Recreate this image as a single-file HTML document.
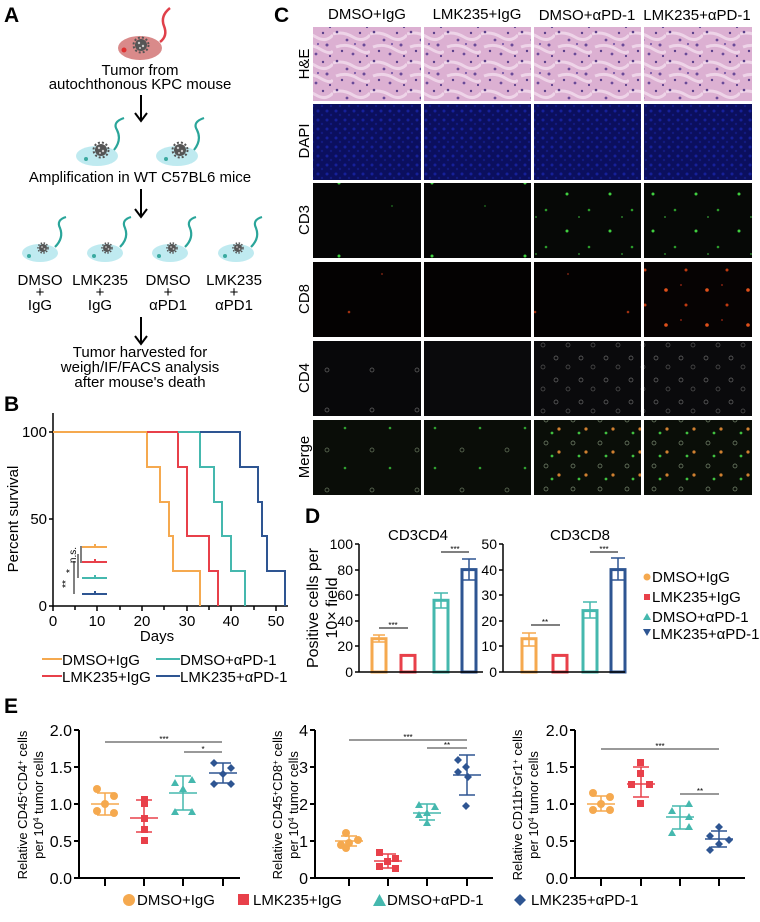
<!DOCTYPE html>
<html><head><meta charset="utf-8"><style>
html,body{margin:0;padding:0;background:#fff}
svg{display:block;font-family:"Liberation Sans",Arial,sans-serif}
</style></head><body>
<svg width="760" height="922" viewBox="0 0 760 922" xmlns="http://www.w3.org/2000/svg">
<defs>
<pattern id="he" width="37" height="29" patternUnits="userSpaceOnUse">
<rect width="37" height="29" fill="#dcb0d2"/>
<path d="M0 5 Q10 2 20 8 T37 6 M3 18 Q14 14 24 20 T37 22" stroke="#eed4e8" stroke-width="3" fill="none"/>
<circle cx="4" cy="3" r="1.3" fill="#5a3f8a"/><circle cx="14" cy="11" r="1.4" fill="#6a4a98"/><circle cx="27" cy="4" r="1.2" fill="#5a3f8a"/><circle cx="31" cy="16" r="1.5" fill="#6a4a98"/><circle cx="9" cy="22" r="1.2" fill="#5a3f8a"/><circle cx="20" cy="25" r="1.4" fill="#6a4a98"/><circle cx="22" cy="15" r="1.1" fill="#7a5aa8"/><circle cx="34" cy="27" r="1.1" fill="#5a3f8a"/>
</pattern>
<pattern id="dapi" width="9" height="9" patternUnits="userSpaceOnUse"><rect width="9" height="9" fill="#0b0f5e"/><circle cx="3" cy="3" r="1.5" fill="#16209a"/><circle cx="7" cy="7" r="1.2" fill="#121a80"/></pattern>
<pattern id="gr" width="43" height="37" patternUnits="userSpaceOnUse"><rect width="43" height="37" fill="#060806"/><circle cx="8" cy="9" r="1.5" fill="#3fcf3f"/><circle cx="30" cy="25" r="1.3" fill="#2a9a2a"/><circle cx="20" cy="32" r="1" fill="#2a7a2a"/></pattern>
<pattern id="gr2" width="93" height="73" patternUnits="userSpaceOnUse"><rect width="93" height="73" fill="#050505"/><circle cx="60" cy="37" r="1.5" fill="#3fcf3f"/><circle cx="20" cy="60" r="1" fill="#1a5a1a"/></pattern>
<pattern id="rd" width="41" height="35" patternUnits="userSpaceOnUse"><rect width="41" height="35" fill="#060303"/><circle cx="10" cy="10" r="1.8" fill="#e0501a"/><circle cx="30" cy="25" r="1.5" fill="#c03a10"/><circle cx="25" cy="5" r="1" fill="#802010"/></pattern>
<pattern id="rd2" width="93" height="73" patternUnits="userSpaceOnUse"><rect width="93" height="73" fill="#040202"/><circle cx="70" cy="20" r="1.3" fill="#a03010"/><circle cx="10" cy="55" r="1" fill="#702010"/></pattern>
<pattern id="wh" width="25" height="22" patternUnits="userSpaceOnUse"><rect width="25" height="22" fill="#0a0a0c"/><circle cx="6" cy="6" r="2" fill="none" stroke="#6a6a6a" stroke-width="0.7"/><circle cx="18" cy="15" r="2" fill="none" stroke="#555" stroke-width="0.7"/></pattern>
<pattern id="wh2" width="45" height="40" patternUnits="userSpaceOnUse"><rect width="45" height="40" fill="#08080a"/><circle cx="12" cy="10" r="2" fill="none" stroke="#666" stroke-width="0.7"/></pattern>
<pattern id="mg" width="27" height="23" patternUnits="userSpaceOnUse"><rect width="27" height="23" fill="#0a0e08"/><circle cx="6" cy="6" r="2" fill="none" stroke="#7a8a70" stroke-width="0.7"/><circle cx="19" cy="15" r="1.6" fill="#d08030"/><circle cx="12" cy="19" r="1.4" fill="#40c040"/></pattern>
<pattern id="mg2" width="45" height="40" patternUnits="userSpaceOnUse"><rect width="45" height="40" fill="#0a0d08"/><circle cx="12" cy="10" r="2" fill="none" stroke="#6a7a60" stroke-width="0.7"/><circle cx="30" cy="28" r="1.3" fill="#30a030"/></pattern>
<g id="gear"><circle r="6" fill="#555"/><circle r="7.5" fill="none" stroke="#555" stroke-width="2" stroke-dasharray="2 2"/><circle cx="-2" cy="-2" r="1.2" fill="#ccc"/><circle cx="2" cy="1" r="1.2" fill="#ccc"/><circle cx="-1" cy="3" r="1" fill="#ccc"/></g>
<g id="gearS"><circle r="4" fill="#555"/><circle r="5" fill="none" stroke="#555" stroke-width="1.5" stroke-dasharray="1.5 1.5"/><circle cx="-1" cy="-1" r="0.9" fill="#ccc"/><circle cx="1.5" cy="1" r="0.9" fill="#ccc"/></g>
</defs>

<!-- Panel A -->
<text x="4" y="22" font-size="21" font-weight="bold">A</text>
<ellipse cx="140" cy="48" rx="22" ry="12" fill="#d98a8a"/>
<circle cx="124" cy="50" r="2.5" fill="#e03030"/>
<use href="#gear" x="141" y="45"/>
<path d="M160 42 Q168 36 164 26 Q160 16 170 8" fill="none" stroke="#e0404a" stroke-width="2.5"/>
<g font-size="15" text-anchor="middle">
<text x="140" y="75">Tumor  from</text>
<text x="140" y="89">autochthonous KPC mouse</text>
<text x="140" y="182">Amplification in WT C57BL6 mice</text>
<text x="40" y="285">DMSO</text><text x="40" y="297">+</text><text x="40" y="310">IgG</text>
<text x="100" y="285">LMK235</text><text x="100" y="297">+</text><text x="100" y="310">IgG</text>
<text x="168" y="285">DMSO</text><text x="168" y="297">+</text><text x="168" y="310">αPD1</text>
<text x="234" y="285">LMK235</text><text x="234" y="297">+</text><text x="234" y="310">αPD1</text>
<text x="140" y="357">Tumor harvested for</text>
<text x="140" y="372">weigh/IF/FACS analysis</text>
<text x="140" y="387">after mouse's death</text>
</g>
<g stroke="#000" stroke-width="2" fill="none">
<path d="M141 95 V120 M135 113 L141 121 L147 113"/>
<path d="M141 189 V216 M135 209 L141 217 L147 209"/>
<path d="M141 317 V343 M135 336 L141 344 L147 336"/>
</g>
<g fill="#bfeaf0">
<ellipse cx="97" cy="156" rx="21" ry="10"/><ellipse cx="177" cy="156" rx="21" ry="10"/>
<ellipse cx="40" cy="253" rx="18" ry="9"/><ellipse cx="105" cy="253" rx="18" ry="9"/><ellipse cx="170" cy="253" rx="18" ry="9"/><ellipse cx="236" cy="253" rx="18" ry="9"/>
</g>
<g fill="#3aaaa0"><circle cx="86" cy="159" r="2"/><circle cx="166" cy="159" r="2"/><circle cx="29" cy="256" r="2"/><circle cx="94" cy="256" r="2"/><circle cx="159" cy="256" r="2"/><circle cx="225" cy="256" r="2"/></g>
<use href="#gear" x="101" y="150"/><use href="#gear" x="180" y="150"/>
<use href="#gearS" x="43" y="248"/><use href="#gearS" x="107" y="248"/><use href="#gearS" x="172" y="248"/><use href="#gearS" x="238" y="248"/>
<g fill="none" stroke="#2aa59a" stroke-width="2.2">
<path d="M114 150 Q122 140 117 130 Q112 122 124 118"/><path d="M194 150 Q202 140 197 130 Q192 122 204 118"/>
<path d="M55 247 Q64 238 60 228 Q56 220 66 217"/><path d="M120 247 Q129 238 125 228 Q121 220 131 217"/><path d="M185 247 Q194 238 190 228 Q186 220 196 217"/><path d="M251 247 Q260 238 256 228 Q252 220 262 217"/>
</g>

<!-- Panel B -->
<text x="4" y="411" font-size="21" font-weight="bold">B</text>
<g stroke="#000" stroke-width="1.5" fill="none">
<path d="M53 413 V606 H288"/>
<path d="M49 432 H53 M49 519 H53 M49 606 H53 M53 606 V611 M75 606 V610 M97 606 V611 M120 606 V610 M142 606 V611 M164 606 V610 M187 606 V611 M209 606 V610 M231 606 V611 M254 606 V610 M276 606 V611"/>
</g>
<g font-size="15" text-anchor="end"><text x="47" y="437">100</text><text x="47" y="524">50</text><text x="47" y="611">0</text></g>
<g font-size="15" text-anchor="middle"><text x="53" y="626">0</text><text x="97" y="626">10</text><text x="142" y="626">20</text><text x="187" y="626">30</text><text x="231" y="626">40</text><text x="276" y="626">50</text><text x="157" y="641">Days</text></g>
<text transform="translate(18,519) rotate(-90)" font-size="15" text-anchor="middle">Percent survival</text>
<g fill="none" stroke-width="2">
<path stroke="#f5a94f" d="M53 432 H147 V467 H160 V502 H169 V536 H173 V571 H200 V606"/>
<path stroke="#e8404a" d="M147 432 H178 V467 H187 V536 H209 V571 H218 V606"/>
<path stroke="#45b8ae" d="M178 432 H200 V467 H214 V502 H222 V536 H231 V571 H245 V606"/>
<path stroke="#2e5592" d="M200 432 H240 V467 H258 V502 H262 V536 H267 V571 H285 V606"/>
<path stroke="#f5a94f" d="M82 547 H107 M95 544 V547"/>
<path stroke="#e8404a" d="M82 562 H107 M95 559 V562"/>
<path stroke="#45b8ae" d="M82 578 H107 M95 575 V578"/>
<path stroke="#2e5592" d="M82 594 H107 M95 591 V594"/>
</g>
<g stroke="#000" stroke-width="1" fill="none"><path d="M81 546 V563 M78 554 V578 M74 561 V594"/></g>
<g font-size="10"><text transform="translate(76,555) rotate(-90)" text-anchor="middle">n.s.</text><text transform="translate(73,571) rotate(-90)" text-anchor="middle">*</text><text transform="translate(69,584) rotate(-90)" text-anchor="middle">**</text></g>
<g stroke-width="2"><line x1="42" y1="659" x2="62" y2="659" stroke="#f5a94f"/><line x1="42" y1="676" x2="62" y2="676" stroke="#e8404a"/><line x1="156" y1="659" x2="180" y2="659" stroke="#45b8ae"/><line x1="156" y1="676" x2="180" y2="676" stroke="#2e5592"/></g>
<g font-size="15"><text x="62" y="665">DMSO+IgG</text><text x="62" y="682">LMK235+IgG</text><text x="180" y="665">DMSO+αPD-1</text><text x="180" y="682">LMK235+αPD-1</text></g>

<!-- Panel C -->
<text x="274" y="22" font-size="21" font-weight="bold">C</text>
<g font-size="15" text-anchor="middle"><text x="367" y="19">DMSO+IgG</text><text x="477" y="19">LMK235+IgG</text><text x="587" y="20">DMSO+αPD-1</text><text x="697" y="20">LMK235+αPD-1</text></g>
<g font-size="15" text-anchor="middle">
<text transform="translate(309,64) rotate(-90)">H&amp;E</text>
<text transform="translate(309,141) rotate(-90)">DAPI</text>
<text transform="translate(309,220) rotate(-90)">CD3</text>
<text transform="translate(309,299) rotate(-90)">CD8</text>
<text transform="translate(309,378) rotate(-90)">CD4</text>
<text transform="translate(309,457) rotate(-90)">Merge</text>
</g>
<g>
<rect x="313" y="27" width="108" height="74" fill="url(#he)"/><rect x="424" y="27" width="107" height="74" fill="url(#he)"/><rect x="534" y="27" width="107" height="74" fill="url(#he)"/><rect x="644" y="27" width="108" height="74" fill="url(#he)"/>
<rect x="313" y="104" width="108" height="76" fill="url(#dapi)"/><rect x="424" y="104" width="107" height="76" fill="url(#dapi)"/><rect x="534" y="104" width="107" height="76" fill="url(#dapi)"/><rect x="644" y="104" width="108" height="76" fill="url(#dapi)"/>
<rect x="313" y="183" width="108" height="75" fill="url(#gr2)"/><rect x="424" y="183" width="107" height="75" fill="url(#gr2)"/><rect x="534" y="183" width="107" height="75" fill="url(#gr)"/><rect x="644" y="183" width="108" height="75" fill="url(#gr)"/>
<rect x="313" y="262" width="108" height="75" fill="url(#rd2)"/><rect x="424" y="262" width="107" height="75" fill="#040202"/><rect x="534" y="262" width="107" height="75" fill="url(#rd2)"/><rect x="644" y="262" width="108" height="75" fill="url(#rd)"/>
<rect x="313" y="341" width="108" height="75" fill="url(#wh2)"/><rect x="424" y="341" width="107" height="75" fill="#0a0a0c"/><rect x="534" y="341" width="107" height="75" fill="url(#wh)"/><rect x="644" y="341" width="108" height="75" fill="url(#wh)"/>
<rect x="313" y="420" width="108" height="75" fill="url(#mg2)"/><rect x="424" y="420" width="107" height="75" fill="url(#mg2)"/><rect x="534" y="420" width="107" height="75" fill="url(#mg)"/><rect x="644" y="420" width="108" height="75" fill="url(#mg)"/>
</g>

<!-- Panel D -->
<text x="305" y="523" font-size="21" font-weight="bold">D</text>
<text x="418" y="540" font-size="15" text-anchor="middle">CD3CD4</text>
<text x="580" y="540" font-size="15" text-anchor="middle">CD3CD8</text>
<text transform="translate(318,608) rotate(-90)" font-size="16" text-anchor="middle">Positive cells per</text>
<text transform="translate(337,608) rotate(-90)" font-size="16" text-anchor="middle">10× field</text>
<g fill="none" stroke-width="3">
<rect x="372" y="638.7" width="14" height="33.3" stroke="#f5a94f"/>
<rect x="401" y="655.4" width="14" height="16.6" stroke="#e8404a"/>
<rect x="434" y="600.3" width="14" height="71.7" stroke="#45b8ae"/>
<rect x="462" y="569.6" width="14" height="102.4" stroke="#2e5592"/>
<rect x="522" y="638.7" width="14" height="33.3" stroke="#f5a94f"/>
<rect x="553" y="655.4" width="14" height="16.6" stroke="#e8404a"/>
<rect x="583" y="610.6" width="14" height="61.4" stroke="#45b8ae"/>
<rect x="611" y="569.6" width="14" height="102.4" stroke="#2e5592"/>
</g>
<g stroke-width="1.5" fill="none">
<path stroke="#f5a94f" d="M373 635 H385 M379 635 V642 M373 642 H385"/>
<path stroke="#2e5592" d="M462 559 H476 M469 559 V580 M462 580 H476"/>
<path stroke="#45b8ae" d="M434 593 H448 M441 593 V608 M434 608 H448"/>
<path stroke="#f5a94f" d="M522 633 H536 M529 633 V646 M522 646 H536"/>
<path stroke="#45b8ae" d="M583 602 H597 M590 602 V618 M583 618 H597"/>
<path stroke="#2e5592" d="M611 558 H625 M618 558 V580 M611 580 H625"/>
</g>
<g stroke="#000" stroke-width="1.5" fill="none">
<path d="M359 544 V672 H483 M355 544 H359 M355 570 H359 M355 595 H359 M355 621 H359 M355 646 H359 M355 672 H359"/>
<path d="M503 544 V672 H625 M499 544 H503 M499 570 H503 M499 595 H503 M499 621 H503 M499 646 H503 M499 672 H503"/>
<path stroke-width="1" d="M379 628 H408 M441 552 H469 M531 625 H560 M590 552 H618"/>
</g>
<g font-size="8" text-anchor="middle"><text x="393" y="628">***</text><text x="455" y="552">***</text><text x="545" y="625">**</text><text x="604" y="552">***</text></g>
<g font-size="14" text-anchor="end"><text x="353" y="549">100</text><text x="353" y="575">80</text><text x="353" y="600">60</text><text x="353" y="626">40</text><text x="353" y="651">20</text><text x="353" y="677">0</text>
<text x="497" y="549">50</text><text x="497" y="575">40</text><text x="497" y="600">30</text><text x="497" y="626">20</text><text x="497" y="651">10</text><text x="497" y="677">0</text></g>
<circle cx="647" cy="577" r="3.5" fill="#f5a94f"/><rect x="644" y="594" width="6" height="6" fill="#e8404a"/><path d="M643 620 L651 620 L647 613 Z" fill="#45b8ae"/><path d="M643 629 L651 629 L647 636 Z" fill="#2e5592"/>
<g font-size="15"><text x="652" y="582">DMSO+IgG</text><text x="652" y="602">LMK235+IgG</text><text x="652" y="622">DMSO+αPD-1</text><text x="652" y="639">LMK235+αPD-1</text></g>

<!-- Panel E -->
<text x="4" y="713" font-size="21" font-weight="bold">E</text>
<g stroke="#000" stroke-width="2" fill="none">
<path d="M79 730 V878 H240 M74 730 H79 M74 767 H79 M74 804 H79 M74 841 H79 M74 878 H79 M105 878 V886 M144 878 V886 M183 878 V886 M223 878 V886"/>
<path d="M315 730 V878 H493 M310 730 H315 M310 767 H315 M310 804 H315 M310 841 H315 M310 878 H315 M349 878 V886 M388 878 V886 M427 878 V886 M467 878 V886"/>
<path d="M575 730 V878 H745 M570 730 H575 M570 767 H575 M570 804 H575 M570 841 H575 M570 878 H575 M601 878 V886 M641 878 V886 M680 878 V886 M719 878 V886"/>
</g>
<g stroke="#333" stroke-width="1"><path d="M105 742 H222 M184 752 H222 M349 740 H467 M427 748 H467 M601 749 H719 M680 794 H719"/></g>
<g font-size="8" text-anchor="middle"><text x="164" y="742">***</text><text x="203" y="752">*</text><text x="408" y="740">***</text><text x="447" y="748">**</text><text x="660" y="749">***</text><text x="700" y="794">**</text></g>
<g font-size="16" text-anchor="end">
<text x="72" y="736">2.0</text><text x="72" y="773">1.5</text><text x="72" y="810">1.0</text><text x="72" y="847">0.5</text><text x="72" y="884">0.0</text>
<text x="308" y="736">4</text><text x="308" y="773">3</text><text x="308" y="810">2</text><text x="308" y="847">1</text><text x="308" y="884">0</text>
<text x="568" y="736">2.0</text><text x="568" y="773">1.5</text><text x="568" y="810">1.0</text><text x="568" y="847">0.5</text><text x="568" y="884">0.0</text>
</g>
<g font-size="13" text-anchor="middle">
<text transform="translate(27,805) rotate(-90)">Relative CD45<tspan dy="-4" font-size="8">+</tspan><tspan dy="4">CD4</tspan><tspan dy="-4" font-size="8">+</tspan><tspan dy="4"> cells</tspan></text>
<text transform="translate(43,805) rotate(-90)">per 10<tspan dy="-4" font-size="8">4</tspan><tspan dy="4"> tumor cells</tspan></text>
<text transform="translate(282,805) rotate(-90)">Relative CD45<tspan dy="-4" font-size="8">+</tspan><tspan dy="4">CD8</tspan><tspan dy="-4" font-size="8">+</tspan><tspan dy="4"> cells</tspan></text>
<text transform="translate(298,805) rotate(-90)">per 10<tspan dy="-4" font-size="8">4</tspan><tspan dy="4"> tumor cells</tspan></text>
<text transform="translate(522,805) rotate(-90)">Relative CD11b<tspan dy="-4" font-size="8">+</tspan><tspan dy="4">Gr1</tspan><tspan dy="-4" font-size="8">+</tspan><tspan dy="4"> cells</tspan></text>
<text transform="translate(538,805) rotate(-90)">per 10<tspan dy="-4" font-size="8">4</tspan><tspan dy="4"> tumor cells</tspan></text>
</g>
<!-- E plot1 -->
<g fill="#f5a94f"><circle cx="97" cy="789" r="4"/><circle cx="114" cy="796" r="4"/><circle cx="105" cy="804" r="4"/><circle cx="97" cy="811" r="4"/><circle cx="114" cy="813" r="4"/></g>
<path d="M97 793 H113 M105 793 V815 M91 804 H119 M97 815 H113" stroke="#f5a94f" stroke-width="1.5" fill="none"/>
<g fill="#e8404a"><rect x="141" y="796" width="7" height="7"/><rect x="141" y="800" width="7" height="7"/><rect x="141" y="815" width="7" height="7"/><rect x="141" y="826" width="7" height="7"/><rect x="141" y="837" width="7" height="7"/></g>
<path d="M136 800 H152 M144 800 V832 M130 818 H158 M136 832 H152" stroke="#e8404a" stroke-width="1.5" fill="none"/>
<g fill="#45b8ae"><path d="M171 786 L179 786 L175 779 Z"/><path d="M188 783 L196 783 L192 776 Z"/><path d="M179 792 L187 792 L183 785 Z"/><path d="M171 815 L179 815 L175 808 Z"/><path d="M188 815 L196 815 L192 808 Z"/></g>
<path d="M175 776 H191 M183 776 V810 M169 793 H197 M175 810 H191" stroke="#45b8ae" stroke-width="1.5" fill="none"/>
<g fill="#2e5592"><path d="M214 759 l4 4 -4 4 -4 -4z"/><path d="M231 764 l4 4 -4 4 -4 -4z"/><path d="M223 770 l4 4 -4 4 -4 -4z"/><path d="M214 780 l4 4 -4 4 -4 -4z"/><path d="M231 780 l4 4 -4 4 -4 -4z"/></g>
<path d="M215 763 H231 M223 763 V783 M209 773 H237 M215 783 H231" stroke="#2e5592" stroke-width="1.5" fill="none"/>
<!-- E plot2 -->
<g fill="#f5a94f"><circle cx="346" cy="833" r="4"/><circle cx="358" cy="840" r="4"/><circle cx="349" cy="843" r="4"/><circle cx="341" cy="845" r="4"/><circle cx="346" cy="848" r="4"/></g>
<path d="M341 836 H357 M349 836 V846 M335 841 H363 M341 846 H357" stroke="#f5a94f" stroke-width="1.5" fill="none"/>
<g fill="#e8404a"><rect x="376" y="849" width="7" height="7"/><rect x="392" y="855" width="7" height="7"/><rect x="384" y="858" width="7" height="7"/><rect x="376" y="863" width="7" height="7"/><rect x="392" y="865" width="7" height="7"/></g>
<path d="M380 854 H396 M388 854 V868 M374 861 H402 M380 868 H396" stroke="#e8404a" stroke-width="1.5" fill="none"/>
<g fill="#45b8ae"><path d="M415 808 L423 808 L419 801 Z"/><path d="M431 810 L439 810 L435 803 Z"/><path d="M423 816 L431 816 L427 809 Z"/><path d="M415 818 L423 818 L419 811 Z"/><path d="M423 826 L431 826 L427 819 Z"/></g>
<path d="M419 804 H435 M427 804 V820 M413 813 H441 M419 820 H435" stroke="#45b8ae" stroke-width="1.5" fill="none"/>
<g fill="#2e5592"><path d="M458 756 l4 4 -4 4 -4 -4z"/><path d="M466 763 l4 4 -4 4 -4 -4z"/><path d="M458 768 l4 4 -4 4 -4 -4z"/><path d="M468 773 l4 4 -4 4 -4 -4z"/><path d="M466 802 l4 4 -4 4 -4 -4z"/></g>
<path d="M459 755 H475 M467 755 V795 M453 775 H481 M459 795 H475" stroke="#2e5592" stroke-width="1.5" fill="none"/>
<!-- E plot3 -->
<g fill="#f5a94f"><circle cx="593" cy="793" r="4"/><circle cx="610" cy="797" r="4"/><circle cx="601" cy="804" r="4"/><circle cx="593" cy="810" r="4"/><circle cx="610" cy="810" r="4"/></g>
<path d="M593 796 H609 M601 796 V811 M587 804 H615 M593 811 H609" stroke="#f5a94f" stroke-width="1.5" fill="none"/>
<g fill="#e8404a"><rect x="637" y="759" width="7" height="7"/><rect x="637" y="770" width="7" height="7"/><rect x="628" y="781" width="7" height="7"/><rect x="646" y="781" width="7" height="7"/><rect x="637" y="800" width="7" height="7"/></g>
<path d="M633 767 H649 M641 767 V797 M627 784 H655 M633 797 H649" stroke="#e8404a" stroke-width="1.5" fill="none"/>
<g fill="#45b8ae"><path d="M685 807 L693 807 L689 800 Z"/><path d="M668 814 L676 814 L672 807 Z"/><path d="M685 820 L693 820 L689 813 Z"/><path d="M668 836 L676 836 L672 829 Z"/><path d="M685 830 L693 830 L689 823 Z"/></g>
<path d="M672 806 H688 M680 806 V829 M666 817 H694 M672 829 H688" stroke="#45b8ae" stroke-width="1.5" fill="none"/>
<g fill="#2e5592"><path d="M719 823 l4 4 -4 4 -4 -4z"/><path d="M710 832 l4 4 -4 4 -4 -4z"/><path d="M729 836 l4 4 -4 4 -4 -4z"/><path d="M719 840 l4 4 -4 4 -4 -4z"/><path d="M710 846 l4 4 -4 4 -4 -4z"/></g>
<path d="M711 831 H727 M719 831 V847 M705 839 H733 M711 847 H727" stroke="#2e5592" stroke-width="1.5" fill="none"/>
<!-- E legend -->
<circle cx="129" cy="900" r="6" fill="#f5a94f"/>
<rect x="238" y="894" width="11" height="11" fill="#e8404a"/>
<path d="M373 906 L386 906 L379.5 894 Z" fill="#45b8ae"/>
<path d="M520 894 l6 6 -6 6 -6 -6z" fill="#2e5592"/>
<g font-size="15"><text x="137" y="905">DMSO+IgG</text><text x="253" y="905">LMK235+IgG</text><text x="387" y="905">DMSO+αPD-1</text><text x="531" y="905">LMK235+αPD-1</text></g>
</svg>
</body></html>
